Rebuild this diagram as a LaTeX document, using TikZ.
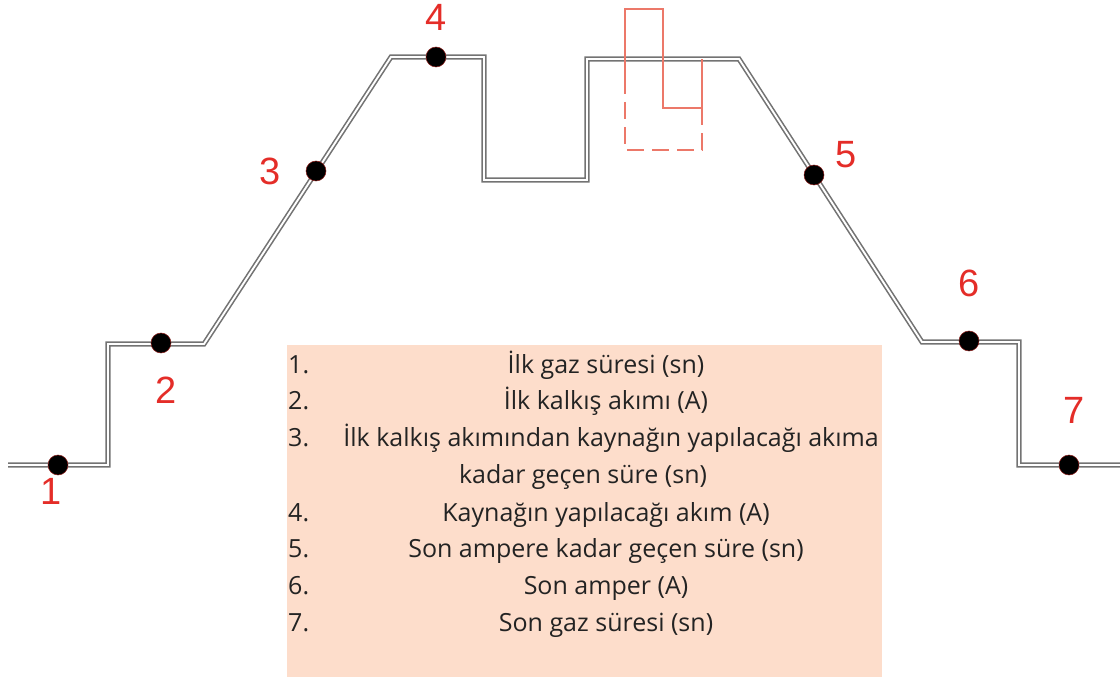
\documentclass[tikz,border=0pt]{standalone}
\usepackage{fontspec}
\setmainfont{Open Sans}
\newfontfamily\numfont{Liberation Sans}
\definecolor{wire}{RGB}{115,115,115}
\definecolor{numred}{RGB}{228,45,40}
\definecolor{salmon}{RGB}{236,120,105}
\definecolor{boxfill}{RGB}{253,221,203}
\definecolor{txt}{RGB}{35,35,35}
\tikzset{
  wireline/.style={draw=wire, line width=1.6pt, double=white, double distance=1.9pt, line join=miter},
  pt/.style={circle, fill=black, draw=numred!60!black, line width=0.5pt, inner sep=0pt, minimum size=20pt},
  num/.style={text=numred, font=\numfont\fontsize{38}{40}\selectfont, inner sep=0pt},
  item/.style={text=txt, font=\fontsize{25}{28}\selectfont, inner sep=0pt, anchor=base},
  itemnum/.style={text=txt, font=\fontsize{25}{28}\selectfont, inner sep=0pt, anchor=base west},
  marker/.style={draw=salmon, line width=1.1pt}
}
\begin{document}
\begin{tikzpicture}[x=1pt,y=-1pt]
\useasboundingbox (0,0) rectangle (1120,679);
% list box
\node[fill=boxfill, minimum width=595pt, minimum height=332pt, inner sep=0pt, anchor=north west] (box) at (287,345) {};
% path points
\coordinate (p0) at (8,465);
\coordinate (p1) at (108,465);
\coordinate (p2) at (108,344);
\coordinate (p3) at (204,344);
\coordinate (p4) at (391,57);
\coordinate (p5) at (484,57);
\coordinate (p6) at (484,180);
\coordinate (p7) at (587,180);
\coordinate (p8) at (587,59);
\coordinate (p9) at (739,59);
\coordinate (p10) at (922,342);
\coordinate (p11) at (1019,342);
\coordinate (p12) at (1019,465);
\coordinate (p13) at (1122,465);
\draw[wireline] (p0) -- (p1) -- (p2) -- (p3) -- (p4) -- (p5) -- (p6) -- (p7) -- (p8) -- (p9) -- (p10) -- (p11) -- (p12) -- (p13);
% salmon marker
\coordinate (m1) at (625,77);
\coordinate (m2) at (625,9);
\coordinate (m3) at (663,9);
\coordinate (m4) at (663,108);
\coordinate (m5) at (702,108);
\coordinate (m6) at (702,59);
\coordinate (m7) at (625,150);
\coordinate (m8) at (702,150);
\draw[marker] (m1) -- (m2) -- (m3) -- (m4) -- (m5) -- (m6);
\draw[marker, dash pattern=on 17pt off 8pt] (m1) -- (m7) -- (m8) -- (m5);
% dots
\node[pt] (d1) at (58,465) {};
\node[pt] (d2) at (161,343) {};
\node[pt] (d3) at (316,171) {};
\node[pt] (d4) at (436,57) {};
\node[pt] (d5) at (814,175) {};
\node[pt] (d6) at (969,341) {};
\node[pt] (d7) at (1069,465) {};
% numbers
\node[num] (n1) at (51,491) {1};
\node[num] (n2) at (166,390) {2};
\node[num] (n3) at (270,171) {3};
\node[num] (n4) at (436,17) {4};
\node[num] (n5) at (846,155) {5};
\node[num] (n6) at (969,283) {6};
\node[num] (n7) at (1074,410) {7};
% list text
\node[itemnum] (i1) at (288,373) {1.};
\node[item] (t1) at (606,373) {İlk gaz süresi (sn)};
\node[itemnum] (i2) at (288,409) {2.};
\node[item] (t2) at (606,409) {İlk kalkış akımı (A)};
\node[itemnum] (i3) at (288,446) {3.};
\node[item, anchor=base east] (t3) at (879,446) {İlk kalkış akımından kaynağın yapılacağı akıma};
\node[item] (t3b) at (583,483) {kadar geçen süre (sn)};
\node[itemnum] (i4) at (288,521) {4.};
\node[item] (t4) at (606,521) {Kaynağın yapılacağı akım (A)};
\node[itemnum] (i5) at (288,557) {5.};
\node[item] (t5) at (606,557) {Son ampere kadar geçen süre (sn)};
\node[itemnum] (i6) at (288,594) {6.};
\node[item] (t6) at (606,594) {Son amper (A)};
\node[itemnum] (i7) at (288,631) {7.};
\node[item] (t7) at (606,631) {Son gaz süresi (sn)};
\end{tikzpicture}
\end{document}
